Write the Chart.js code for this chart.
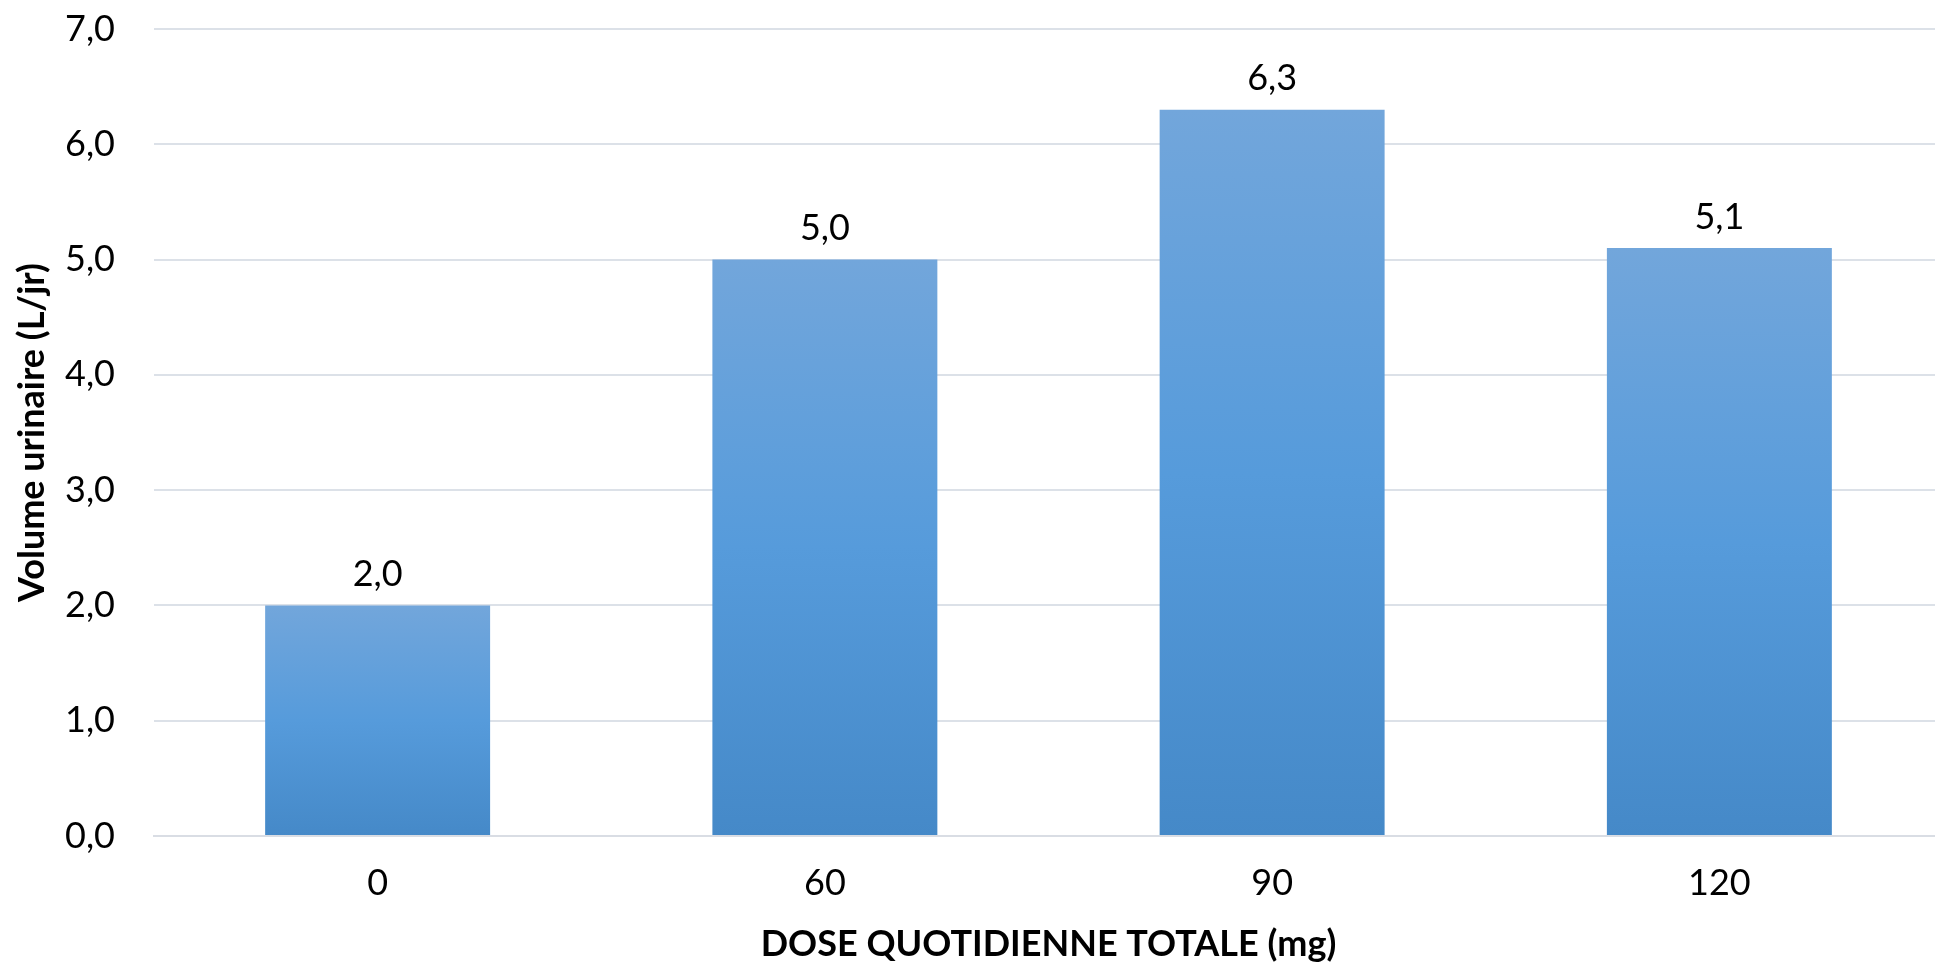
<!DOCTYPE html>
<html>
<head>
<meta charset="utf-8">
<script src="https://cdn.jsdelivr.net/npm/chart.js@4"></script>
<style>
html,body{margin:0;padding:0;background:#fff;overflow:hidden;}
/* plot area runs a little past the right edge, as in the original */
#wrap{width:1943px;height:966px;}
</style>
</head>
<body>
<div id="wrap"><canvas id="barChart"></canvas></div>
<script>

// DATA

const doses = ["0","60","90","120"];
const volumes = [2.0,5.0,6.3,5.1];
const yTicks = [0,1,2,3,4,5,6,7];

const fmt = v => v.toFixed(1).replace(".", ",");

// VALUE LABELS

const valueLabels = {
id:"valueLabels",
afterDatasetsDraw(chart){
const ctx = chart.ctx;
const meta = chart.getDatasetMeta(0);
ctx.save();
ctx.font = "36px Lato";
ctx.fillStyle = "#000";
ctx.textAlign = "center";
ctx.textBaseline = "middle";
meta.data.forEach((bar,i)=>{
ctx.fillText(fmt(volumes[i]), bar.x, bar.y - 31);
});
ctx.restore();
}
};

// BAR CHART

new Chart(
document.getElementById("barChart"),
{
type:"bar",
data:{
labels:doses,
datasets:[{
data:volumes,
// each bar gets its own top-to-bottom gradient
backgroundColor:function(c){
const chart = c.chart;
if(!chart.chartArea || c.dataIndex===undefined) return "#5B9BD5";
const y = chart.scales.y;
const top = y.getPixelForValue(volumes[c.dataIndex]);
const bottom = y.getPixelForValue(0);
const g = chart.ctx.createLinearGradient(0, top, 0, bottom);
g.addColorStop(0, "#72A6DB");
g.addColorStop(0.5, "#569BDB");
g.addColorStop(1, "#4589C8");
return g;
},
categoryPercentage:1,
barPercentage:0.503
}]
},
plugins:[valueLabels],
options:{
responsive:true,
maintainAspectRatio:false,
animation:false,
layout:{padding:{top:29,right:0,left:11,bottom:0}},
plugins:{
legend:{display:false},
tooltip:{enabled:false}
},
scales:{
x:{
grid:{display:false},
border:{color:"#D9DDE4", width:2},
ticks:{color:"#000", font:{family:"Lato", size:36}, padding:18},
title:{
display:true,
text:"DOSE QUOTIDIENNE TOTALE (mg)",
color:"#000",
font:{family:"Lato", size:36, weight:"bold"},
padding:{top:0,bottom:0}
},
afterFit(axis){
axis.height = 130;
}
},
y:{
min:0,
max:7,
afterBuildTicks(axis){
axis.ticks = yTicks.map(v=>({value:v}));
},
grid:{color:"#DCE1E8", lineWidth:2, drawTicks:true, tickLength:33, tickColor:"rgba(0,0,0,0)"},
border:{display:false},
ticks:{
color:"#000",
font:{family:"Lato", size:36},
padding:6,
callback:v=>fmt(v)
},
title:{
display:true,
text:"Volume urinaire (L/jr)",
color:"#000",
font:{family:"Lato", size:36, weight:"bold"},
padding:{top:0,bottom:0}
},
afterFit(axis){
axis.width = 143;
}
}
}
}
}
);

</script>
</body>
</html>
